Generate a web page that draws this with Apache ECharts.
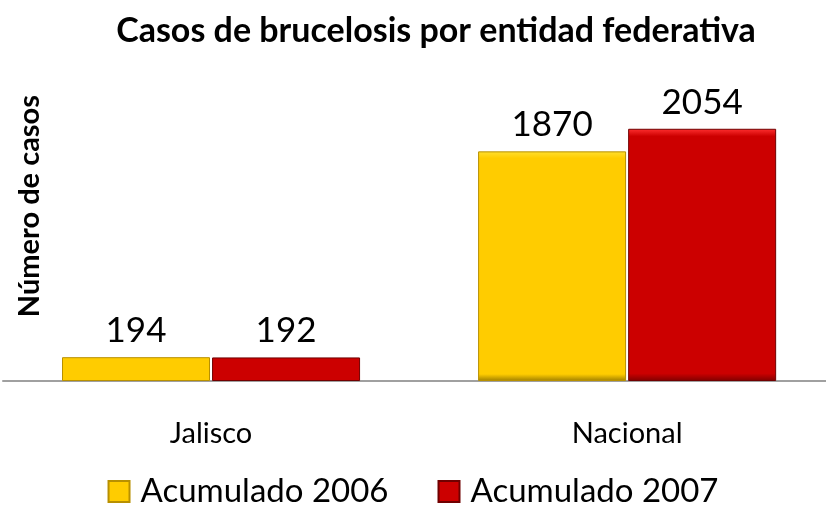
<!DOCTYPE html>
<html>
<head>
<meta charset="utf-8">
<script src="https://cdn.jsdelivr.net/npm/echarts@6/dist/echarts.min.js"></script>
<style>
  html, body { margin: 0; padding: 0; background: #fff; }
  #chart { width: 826px; height: 510px; }
</style>
</head>
<body>
<div id="chart"></div>
<script>
// datos
var categorias = ['Jalisco', 'Nacional'];
var acumulado2006 = [194, 1870];
var acumulado2007 = [192, 2054];

function bevel(light, base, dark) {
    return {
        type: 'linear', x: 0, y: 0, x2: 0, y2: 1,
        colorStops: [
            { offset: 0, color: light },
            { offset: 0.03, color: base },
            { offset: 0.97, color: base },
            { offset: 1, color: dark }
        ]
    };
}

// pares [indice de categoria, valor] para el eje x numerico
function pares(valores) {
    return valores.map(function (v, i) { return [i, v]; });
}

var dom = document.getElementById('chart');
var myChart = echarts.init(dom, null, { renderer: 'canvas' });
var fuente = 'Lato, "Open Sans", sans-serif';

var option = {
    animation: false,
    title: {
        text: 'Casos de brucelosis por entidad federativa',
        left: 431,
        textAlign: 'center',
        top: 9,
        textStyle: { fontFamily: fuente, fontSize: 34, fontWeight: 'bold', color: '#000' }
    },
    graphic: [{
        type: 'text',
        left: 15,
        top: 95,
        rotation: Math.PI / 2,
        style: {
            text: 'Número de casos',
            font: 'bold 29px ' + fuente,
            fill: '#000'
        }
    }],
    legend: {
        bottom: -3,
        left: 'center',
        itemWidth: 21,
        itemHeight: 21,
        itemGap: 49,
        icon: 'rect',
        textStyle: { fontFamily: fuente, fontSize: 33, color: '#000', padding: [0, 0, 0, 6] },
        data: ['Acumulado 2006', 'Acumulado 2007']
    },
    grid: { left: 3, right: 0, top: 74, bottom: 129 },
    xAxis: {
        type: 'value',
        min: -0.5,
        max: 1.478,
        splitLine: { show: false },
        axisLine: { onZero: false, lineStyle: { color: '#a0a0a0', width: 2 } },
        axisTick: { show: false },
        axisLabel: {
            customValues: [0, 1],
            margin: 38,
            fontFamily: fuente,
            fontSize: 29,
            color: '#000',
            formatter: function (v) { return categorias[Math.round(v)]; }
        }
    },
    yAxis: {
        type: 'value',
        min: 0,
        max: 2500,
        show: false,
        splitLine: { show: false }
    },
    series: [
        {
            name: 'Acumulado 2006',
            type: 'bar',
            data: pares(acumulado2006),
            barWidth: 148,
            barGap: '1.4%',
            itemStyle: {
                color: bevel('#ffe030', '#ffcc00', '#a08000'),
                borderColor: '#b89000',
                borderWidth: 1
            },
            label: { show: true, position: 'top', distance: 9, fontFamily: fuente, fontSize: 35, color: '#000' }
        },
        {
            name: 'Acumulado 2007',
            type: 'bar',
            data: pares(acumulado2007),
            barWidth: 148,
            itemStyle: {
                color: bevel('#ff3030', '#cc0000', '#800000'),
                borderColor: '#700000',
                borderWidth: 1
            },
            label: { show: true, position: 'top', distance: 9, fontFamily: fuente, fontSize: 35, color: '#000' }
        }
    ]
};

myChart.setOption(option);
window.addEventListener('resize', myChart.resize);
</script>
</body>
</html>
